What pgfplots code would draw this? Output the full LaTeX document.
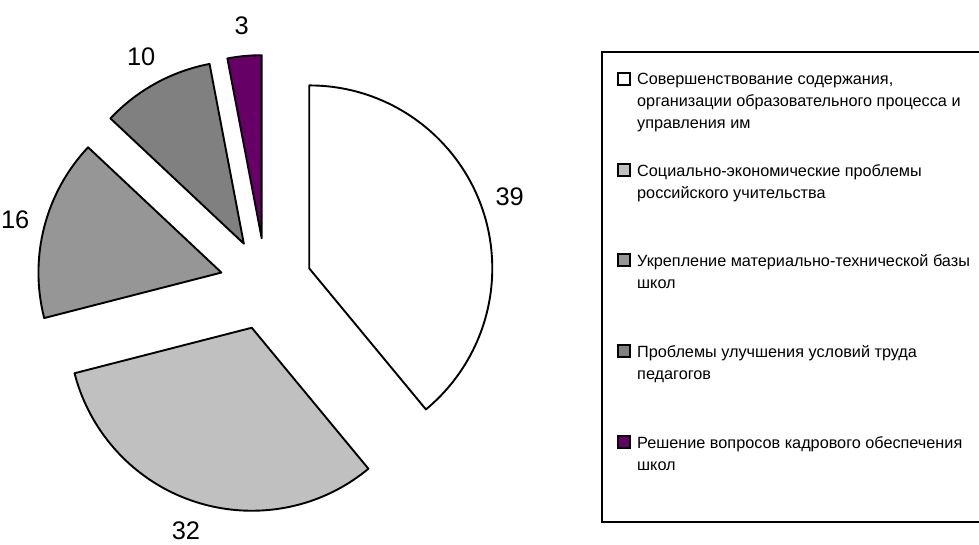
\documentclass[border=0pt]{standalone}
\usepackage{pgfplots}
\pgfplotsset{compat=1.18}
\usepackage{pgfplotstable}
\usepackage{fontspec}
\setmainfont{Liberation Sans}
\definecolor{c1}{HTML}{FFFFFF}
\definecolor{c2}{HTML}{C0C0C0}
\definecolor{c3}{HTML}{969696}
\definecolor{c4}{HTML}{808080}
\definecolor{c5}{HTML}{660066}

\pgfplotstableread{
val
39
32
16
10
3
}\piedata

\def\cx{266}\def\cy{261}\def\R{183}\def\ex{46}\def\ld{213}
\newcommand\PieV[2]{\csname pie#1#2\endcsname}

\newcommand\slice[2]{%
  \filldraw[fill=#2, draw=black, line width=1.9bp, line join=round]
    (axis cs:\PieV{vx}{#1},\PieV{vy}{#1}) -- ++(\PieV{st}{#1}:\R bp)
    arc[start angle=\PieV{st}{#1}, end angle=\PieV{en}{#1}, radius=\R bp] -- cycle;
  \node[font=\fontsize{25.5}{30}\selectfont, inner sep=0pt]
    at (axis cs:\PieV{lx}{#1},\PieV{ly}{#1}) {\PieV{v}{#1}};
}
\newcommand\legsq[2]{%
  \filldraw[fill=#2, draw=black, line width=1.4bp]
    (axis cs:618,{#1-6}) rectangle (axis cs:630,{#1+6});
}
\newcommand\legline[2]{%
  \node[anchor=base west, inner sep=0pt, font=\fontsize{16.3}{22}\selectfont]
    at (axis cs:637,#1) {#2};
}

\begin{document}
\begin{tikzpicture}
\gdef\curang{90}
\pgfplotsforeachungrouped \i in {0,...,4}{%
  \pgfplotstablegetelem{\i}{val}\of\piedata
  \let\v\pgfplotsretval
  \pgfmathsetmacro\st{\curang}
  \pgfmathsetmacro\en{\curang-3.6*\v}
  \pgfmathsetmacro\md{(\st+\en)/2}
  \pgfmathsetmacro\vx{\cx+\ex*cos(\md)}
  \pgfmathsetmacro\vy{\cy+\ex*sin(\md)}
  \pgfmathsetmacro\lx{\vx+\ld*cos(\md)}
  \pgfmathsetmacro\ly{\vy+\ld*sin(\md)}
  \expandafter\xdef\csname piest\i\endcsname{\st}
  \expandafter\xdef\csname pieen\i\endcsname{\en}
  \expandafter\xdef\csname pievx\i\endcsname{\vx}
  \expandafter\xdef\csname pievy\i\endcsname{\vy}
  \expandafter\xdef\csname pielx\i\endcsname{\lx}
  \expandafter\xdef\csname piely\i\endcsname{\ly}
  \expandafter\xdef\csname piev\i\endcsname{\v}
  \xdef\curang{\en}
}
\begin{axis}[
  at={(0,0)}, anchor=south west,
  x=1bp, y=1bp, scale only axis,
  xmin=0, xmax=979, ymin=0, ymax=545,
  hide axis, clip=false,
]
\slice{0}{c1}
\slice{1}{c2}
\slice{2}{c3}
\slice{3}{c4}
\slice{4}{c5}

\draw[line width=2bp] (axis cs:602,493) rectangle (axis cs:995,23);
\legsq{466}{c1}
\legline{460}{Совершенствование содержания,}
\legline{438}{организации образовательного процесса и}
\legline{416}{управления им}
\legsq{375}{c2}
\legline{369}{Социально-экономические проблемы}
\legline{347}{российского учительства}
\legsq{285}{c3}
\legline{279}{Укрепление материально-технической базы}
\legline{257}{школ}
\legsq{194}{c4}
\legline{188}{Проблемы улучшения условий труда}
\legline{166}{педагогов}
\legsq{103}{c5}
\legline{97}{Решение вопросов кадрового обеспечения}
\legline{75}{школ}
\end{axis}
\pgfresetboundingbox
\useasboundingbox (0,0) rectangle (979bp,545bp);
\end{tikzpicture}
\end{document}
